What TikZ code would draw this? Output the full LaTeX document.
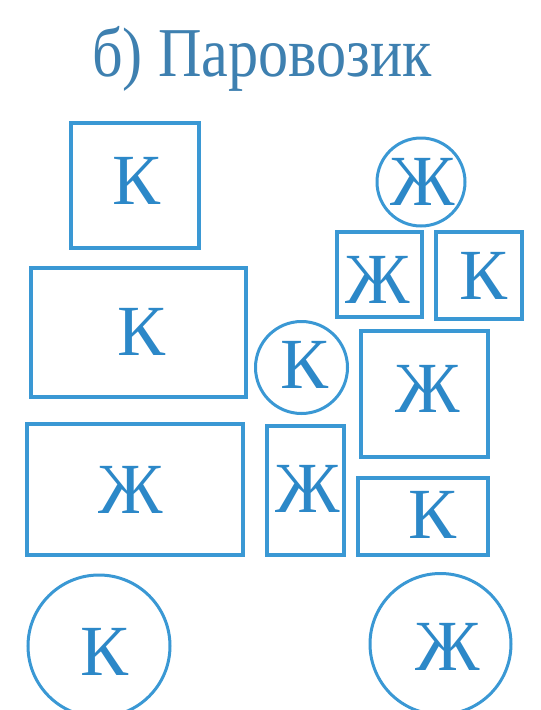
\documentclass[tikz,border=0pt]{standalone}
\usepackage{fontspec}
\setmainfont{Liberation Serif}
\definecolor{lineblue}{RGB}{58,152,212}
\definecolor{letterblue}{RGB}{44,136,200}
\definecolor{titleblue}{RGB}{62,128,176}
% letter shifted by (dx, raise)
\newcommand\ltr[3]{\smash{\makebox[0pt]{\kern#1\raisebox{#2}{#3}\kern-#1}}\vphantom{Ж}}
\begin{document}
\begin{tikzpicture}[x=1pt,y=-1pt,
  letter/.style={text=letterblue,font=\fontsize{72}{72}\selectfont,inner sep=0pt},
  blk/.style={letter,draw=lineblue,line width=3.5pt,rectangle,minimum width=#1},
  whl/.style={letter,draw=lineblue,line width=3pt,circle,minimum size=#1}]
\useasboundingbox (0,0) rectangle (541,710);
\clip (0,0) rectangle (541,710);
\fill[white] (0,0) rectangle (541,710);
\node[text=titleblue,font=\fontsize{70}{70}\selectfont,anchor=base,inner sep=0pt,xscale=0.86] (title) at (262,76) {б) Паровозик};
% blocks
\node[blk=128,minimum height=125] (k1) at (135,185.5) {\ltr{1.5pt}{5pt}{К}};
\node[blk=215,minimum height=129] (k2) at (138.5,332.5) {\ltr{3pt}{1pt}{К}};
\node[blk=216,minimum height=131] (zh1) at (135,489.5) {\ltr{-4.5pt}{0pt}{Ж}};
\node[blk=77,minimum height=129] (zh2) at (305.5,490.5) {\ltr{2pt}{2pt}{Ж}};
\node[blk=85,minimum height=85] (zh3) at (379.5,274.5) {\ltr{-2pt}{-5pt}{Ж}};
\node[blk=86,minimum height=87] (k3) at (479,275.5) {\ltr{5pt}{0pt}{К}};
\node[blk=127,minimum height=126] (zh4) at (424.5,394) {\ltr{3pt}{5pt}{Ж}};
\node[blk=130,minimum height=77] (k4) at (423,516.5) {\ltr{10pt}{1.5pt}{К}};
% circles
\node[whl=88] (czh1) at (421,182) {\ltr{1.5pt}{0.5pt}{Ж}};
\node[whl=92] (ck1) at (301.5,367.5) {\ltr{3.5pt}{2.5pt}{К}};
\node[whl=142] (ck2) at (99,646) {\ltr{6pt}{-6pt}{К}};
\node[whl=141] (czh2) at (440.5,644) {\ltr{7pt}{-3pt}{Ж}};
\end{tikzpicture}
\end{document}
